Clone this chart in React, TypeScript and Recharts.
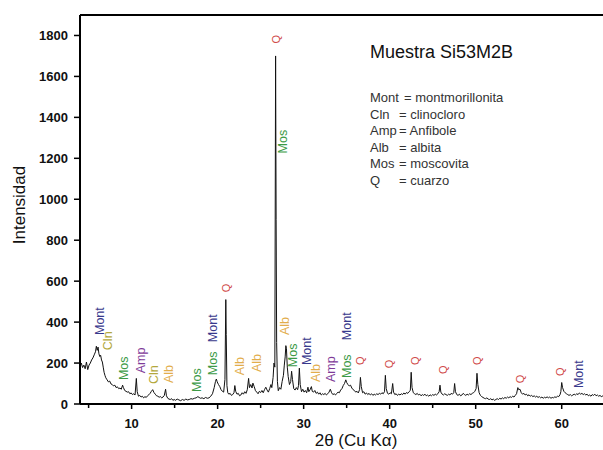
import { ComposedChart, Line, Scatter, XAxis, YAxis, ReferenceLine } from 'recharts'

// 2θ (deg), counts
const scanLow: [number, number][] = [
  [4.0, 185], [4.15, 200], [4.3, 178], [4.45, 190], [4.6, 172], [4.75, 205], [4.9, 168], [5.05, 190],
  [5.2, 200], [5.35, 215], [5.5, 225], [5.65, 240], [5.8, 255], [5.9, 282], [6.0, 262], [6.1, 278],
  [6.2, 245], [6.3, 232], [6.4, 238], [6.5, 215], [6.6, 205], [6.7, 180], [6.8, 155], [6.9, 140],
  [7.0, 128], [7.15, 118], [7.3, 108], [7.45, 112], [7.6, 98], [7.75, 95], [7.9, 88], [8.05, 92],
  [8.2, 80], [8.35, 84], [8.5, 75], [8.65, 78], [8.8, 72], [8.95, 92], [9.05, 80], [9.2, 66],
  [9.35, 62], [9.5, 58], [9.65, 60], [9.8, 50], [9.95, 54], [10.1, 46], [10.25, 50], [10.4, 44],
  [10.55, 125], [10.65, 60], [10.8, 38], [10.95, 42], [11.1, 34], [11.25, 38], [11.4, 30], [11.55, 36],
  [11.7, 32], [11.85, 40], [12.0, 45], [12.15, 52], [12.3, 62], [12.45, 70], [12.6, 56], [12.75, 48],
  [12.9, 40], [13.05, 38], [13.2, 33], [13.35, 36], [13.5, 30], [13.65, 34], [13.8, 42], [13.95, 72],
  [14.05, 40], [14.2, 28], [14.35, 24], [14.5, 22], [14.65, 26], [14.8, 18], [14.95, 22], [15.1, 18],
  [15.3, 24], [15.5, 20], [15.7, 16], [15.9, 22], [16.1, 18], [16.3, 24], [16.5, 20], [16.7, 22],
  [16.9, 26], [17.1, 24], [17.3, 28], [17.5, 30], [17.7, 36], [17.85, 32], [18.0, 28], [18.2, 30],
  [18.4, 26], [18.6, 32], [18.8, 28], [19.0, 30], [19.2, 38], [19.4, 50], [19.6, 80], [19.75, 110],
  [19.85, 122], [19.95, 108], [20.1, 95], [20.25, 85], [20.4, 70], [20.55, 62], [20.7, 58], [20.85, 120],
  [20.95, 510], [21.0, 340], [21.08, 90], [21.18, 55], [21.3, 48], [21.45, 52], [21.6, 42], [21.75, 46],
]

const scanMid: [number, number][] = [
  [21.9, 55], [22.0, 90], [22.1, 62], [22.25, 48], [22.4, 52], [22.55, 40], [22.7, 44], [22.85, 55],
  [23.0, 48], [23.15, 60], [23.3, 52], [23.45, 70], [23.6, 125], [23.7, 80], [23.85, 95], [24.0, 78],
  [24.1, 102], [24.25, 85], [24.4, 65], [24.55, 58], [24.7, 50], [24.85, 62], [25.0, 56], [25.15, 66],
  [25.3, 55], [25.45, 70], [25.6, 82], [25.75, 68], [25.9, 58], [26.05, 75], [26.2, 95], [26.3, 80],
  [26.45, 130], [26.55, 200], [26.65, 180], [26.74, 1700], [26.8, 900], [26.86, 300], [26.95, 110], [27.05, 65],
  [27.2, 80], [27.35, 72], [27.5, 110], [27.65, 140], [27.75, 190], [27.85, 230], [27.93, 285], [28.0, 270],
  [28.1, 180], [28.2, 135], [28.35, 95], [28.5, 110], [28.6, 160], [28.7, 120], [28.85, 75], [29.0, 68],
  [29.15, 80], [29.3, 70], [29.4, 90], [29.5, 175], [29.6, 95], [29.75, 60], [29.9, 72], [30.05, 58],
  [30.2, 66], [30.35, 55], [30.5, 82], [30.6, 60], [30.75, 70], [30.9, 85], [31.0, 62], [31.15, 58],
  [31.3, 66], [31.45, 52], [31.6, 58], [31.75, 48], [31.9, 55], [32.05, 44], [32.2, 50], [32.35, 46],
  [32.5, 52], [32.65, 44], [32.8, 50], [32.95, 58], [33.1, 72], [33.25, 55], [33.4, 46], [33.55, 50],
  [33.7, 44], [33.85, 52], [34.0, 58], [34.15, 55], [34.3, 68], [34.45, 75], [34.6, 90], [34.75, 100],
  [34.9, 118], [35.0, 105], [35.15, 95], [35.3, 88], [35.45, 92], [35.6, 78], [35.75, 70], [35.9, 66],
  [36.05, 58], [36.2, 62], [36.35, 54], [36.5, 70], [36.6, 130], [36.7, 85], [36.85, 55], [37.0, 60],
  [37.15, 48], [37.3, 54], [37.45, 46], [37.6, 52], [37.75, 44], [37.9, 50], [38.05, 42], [38.2, 48],
  [38.35, 44], [38.5, 50], [38.65, 46], [38.8, 52], [38.95, 48], [39.1, 55], [39.25, 50], [39.4, 60],
  [39.5, 140], [39.6, 75], [39.75, 52], [39.9, 48], [40.05, 55], [40.2, 50], [40.35, 100], [40.45, 58],
  [40.6, 46], [40.75, 50], [40.9, 42], [41.05, 48], [41.2, 44], [41.35, 50], [41.5, 46], [41.65, 54],
  [41.8, 48], [41.95, 56], [42.1, 52], [42.25, 60], [42.4, 66], [42.5, 155], [42.6, 80], [42.75, 55],
]

const scanHigh: [number, number][] = [
  [42.9, 50], [43.05, 46], [43.2, 52], [43.35, 44], [43.5, 48], [43.65, 40], [43.8, 46], [43.95, 42],
  [44.1, 48], [44.25, 40], [44.4, 44], [44.55, 38], [44.7, 45], [44.85, 40], [45.0, 46], [45.15, 42],
  [45.3, 48], [45.45, 44], [45.6, 50], [45.75, 60], [45.85, 92], [45.95, 58], [46.1, 48], [46.25, 44],
  [46.4, 50], [46.55, 46], [46.7, 42], [46.85, 48], [47.0, 44], [47.15, 52], [47.3, 48], [47.45, 55],
  [47.55, 100], [47.65, 60], [47.8, 46], [47.95, 42], [48.1, 48], [48.25, 40], [48.4, 44], [48.55, 52],
  [48.7, 46], [48.85, 42], [49.0, 48], [49.15, 44], [49.3, 50], [49.45, 46], [49.6, 52], [49.75, 55],
  [49.9, 62], [50.05, 75], [50.15, 150], [50.25, 95], [50.4, 55], [50.55, 42], [50.7, 36], [50.85, 32],
  [51.0, 28], [51.15, 26], [51.3, 30], [51.45, 24], [51.6, 22], [51.75, 26], [51.9, 20], [52.05, 24],
  [52.2, 18], [52.35, 22], [52.5, 26], [52.65, 22], [52.8, 28], [52.95, 24], [53.1, 30], [53.25, 26],
  [53.4, 32], [53.55, 28], [53.7, 34], [53.85, 30], [54.0, 36], [54.15, 32], [54.3, 38], [54.45, 34],
  [54.6, 42], [54.75, 50], [54.9, 80], [55.0, 70], [55.15, 72], [55.3, 55], [55.45, 48], [55.6, 52],
  [55.75, 44], [55.9, 48], [56.05, 40], [56.2, 45], [56.35, 38], [56.5, 42], [56.65, 36], [56.8, 40],
  [56.95, 34], [57.1, 38], [57.25, 32], [57.4, 36], [57.55, 30], [57.7, 34], [57.85, 28], [58.0, 33],
  [58.15, 30], [58.3, 35], [58.45, 30], [58.6, 34], [58.75, 28], [58.9, 32], [59.05, 30], [59.2, 35],
  [59.35, 32], [59.5, 38], [59.65, 36], [59.8, 45], [59.9, 60], [60.0, 105], [60.1, 80], [60.25, 62],
  [60.4, 55], [60.55, 50], [60.7, 46], [60.85, 42], [61.0, 46], [61.15, 40], [61.3, 44], [61.45, 48],
  [61.6, 44], [61.75, 50], [61.9, 46], [62.05, 54], [62.2, 48], [62.35, 52], [62.5, 46], [62.65, 50],
  [62.8, 44], [62.95, 48], [63.1, 40], [63.25, 44], [63.4, 38], [63.55, 46], [63.7, 42], [63.85, 48],
  [64.0, 40], [64.15, 44], [64.3, 38], [64.45, 42], [64.6, 36], [64.8, 40],
]

// phase label, 2θ, intensity at the foot of the label
const peakLabels: [string, number, number][] = [
  ['Mont', 6.3, 337], ['Cln', 7.2, 263], ['Mos', 9.1, 117], ['Amp', 11.0, 150],
  ['Cln', 12.6, 98], ['Alb', 14.3, 102], ['Mos', 17.5, 59], ['Mos', 19.4, 141],
  ['Mont', 19.4, 302], ['Q', 20.95, 546], ['Alb', 22.5, 141], ['Alb', 24.5, 156],
  ['Q', 26.75, 1761], ['Mos', 27.55, 1224], ['Alb', 27.8, 337], ['Mos', 28.7, 180],
  ['Mont', 30.3, 190], ['Alb', 31.4, 107], ['Amp', 33.1, 107], ['Mos', 35.0, 127],
  ['Mont', 35.0, 312], ['Q', 36.5, 190], ['Q', 39.9, 175], ['Q', 42.9, 190],
  ['Q', 46.2, 146], ['Q', 50.2, 190], ['Q', 55.1, 102], ['Q', 59.8, 137], ['Mont', 61.9, 78],
]

const legendAbbr = ['Mont', 'Cln', 'Amp', 'Alb', 'Mos', 'Q']
const legendName = ['= montmorillonita', '= clinocloro', '= Anfibole', '= albita', '= moscovita', '= cuarzo']

const xTicks = [5, 10, 15, 20, 25, 30, 35, 40, 45, 50, 55, 60]
const yTicks = [0, 100, 200, 300, 400, 500, 600, 700, 800, 900, 1000, 1100, 1200, 1300, 1400, 1500, 1600, 1700, 1800]

const phaseColor: Record<string, string> = {
  Mont: '#38388c',
  Cln: '#b3a83c',
  Mos: '#3c9a46',
  Amp: '#7e3a98',
  Alb: '#e2ad4c',
  Q: '#d04a4a',
}

const scan = [...scanLow, ...scanMid, ...scanHigh].map(([angle, counts]) => ({ angle, counts }))
const labels = peakLabels.map(([phase, angle, level]) => ({ phase, angle, level }))

const FONT = 'Arial, "Liberation Sans", sans-serif'

function XTick({ x, y, payload }: any) {
  const major = payload.value % 10 === 0
  return (
    <g>
      <line x1={x} x2={x} y1={y} y2={y + (major ? 5 : 4)} stroke="#000" strokeWidth={1.5} />
      {major && (
        <text x={x} y={y + 24} textAnchor="middle" fontFamily={FONT} fontWeight="bold" fontSize={13} fill="#111">
          {payload.value}
        </text>
      )}
    </g>
  )
}

function YTick({ x, y, payload }: any) {
  const major = payload.value % 200 === 0
  return (
    <g>
      <line x1={x - (major ? 6 : 4)} x2={x} y1={y} y2={y} stroke="#000" strokeWidth={1.5} />
      {major && (
        <text x={x - 12} y={y} dy="0.36em" textAnchor="end" fontFamily={FONT} fontWeight="bold" fontSize={13} fill="#111">
          {payload.value}
        </text>
      )}
    </g>
  )
}

function PhaseLabel({ cx, cy, payload }: any) {
  const size = payload.phase === 'Q' ? 11 : 12.5
  return (
    <text
      x={cx}
      y={cy}
      dy="0.36em"
      transform={`rotate(-90 ${cx} ${cy})`}
      fontFamily={FONT}
      fontSize={size}
      fill={phaseColor[payload.phase]}
    >
      {payload.phase}
    </text>
  )
}

export default function App() {
  return (
    <div style={{ position: 'absolute', left: 0, top: 0, width: 603, height: 450, background: '#fff', overflow: 'hidden' }}>
      <ComposedChart width={603} height={450} data={scan} margin={{ top: 15, right: 0, bottom: 0, left: 0 }}>
        <XAxis
          dataKey="angle"
          type="number"
          domain={[4, 64.8]}
          allowDataOverflow
          ticks={xTicks}
          tick={<XTick />}
          tickSize={0}
          tickMargin={0}
          height={46}
          axisLine={{ stroke: '#000', strokeWidth: 2 }}
        />
        <YAxis
          type="number"
          domain={[0, 1900]}
          allowDataOverflow
          ticks={yTicks}
          tick={<YTick />}
          tickSize={0}
          tickMargin={0}
          width={80}
          axisLine={{ stroke: '#000', strokeWidth: 2 }}
        />
        <ReferenceLine y={1900} stroke="#000" strokeWidth={2} />
        <Line type="linear" dataKey="counts" stroke="#111" strokeWidth={1} dot={false} isAnimationActive={false} />
        <Scatter data={labels} dataKey="level" shape={<PhaseLabel />} isAnimationActive={false} />
      </ComposedChart>

      <div
        style={{
          position: 'absolute', left: 9, top: 205, transform: 'translate(-50%, -50%) rotate(-90deg)',
          fontFamily: FONT, fontSize: 17, color: '#111', whiteSpace: 'nowrap', transformOrigin: 'center',
          marginLeft: 11,
        }}
      >
        Intensidad
      </div>
      <div
        style={{
          position: 'absolute', left: 356, top: 432, transform: 'translateX(-50%)',
          fontFamily: FONT, fontSize: 17, color: '#111', whiteSpace: 'nowrap', lineHeight: '17px',
        }}
      >
        2θ (Cu Kα)
      </div>

      <div style={{ position: 'absolute', left: 370, top: 42, fontFamily: FONT, fontSize: 18, color: '#111', lineHeight: '20px', whiteSpace: 'nowrap' }}>
        Muestra Si53M2B
      </div>
      {legendAbbr.map((abbr, i) => (
        <div
          key={abbr}
          style={{ position: 'absolute', left: 370, top: 90 + i * 16.6, fontFamily: FONT, fontSize: 13, color: '#333', lineHeight: '15px', whiteSpace: 'nowrap' }}
        >
          <span>{abbr}</span>
          <span style={{ position: 'absolute', left: abbr === 'Mont' ? 34 : 29 }}>{legendName[i]}</span>
        </div>
      ))}
    </div>
  )
}
